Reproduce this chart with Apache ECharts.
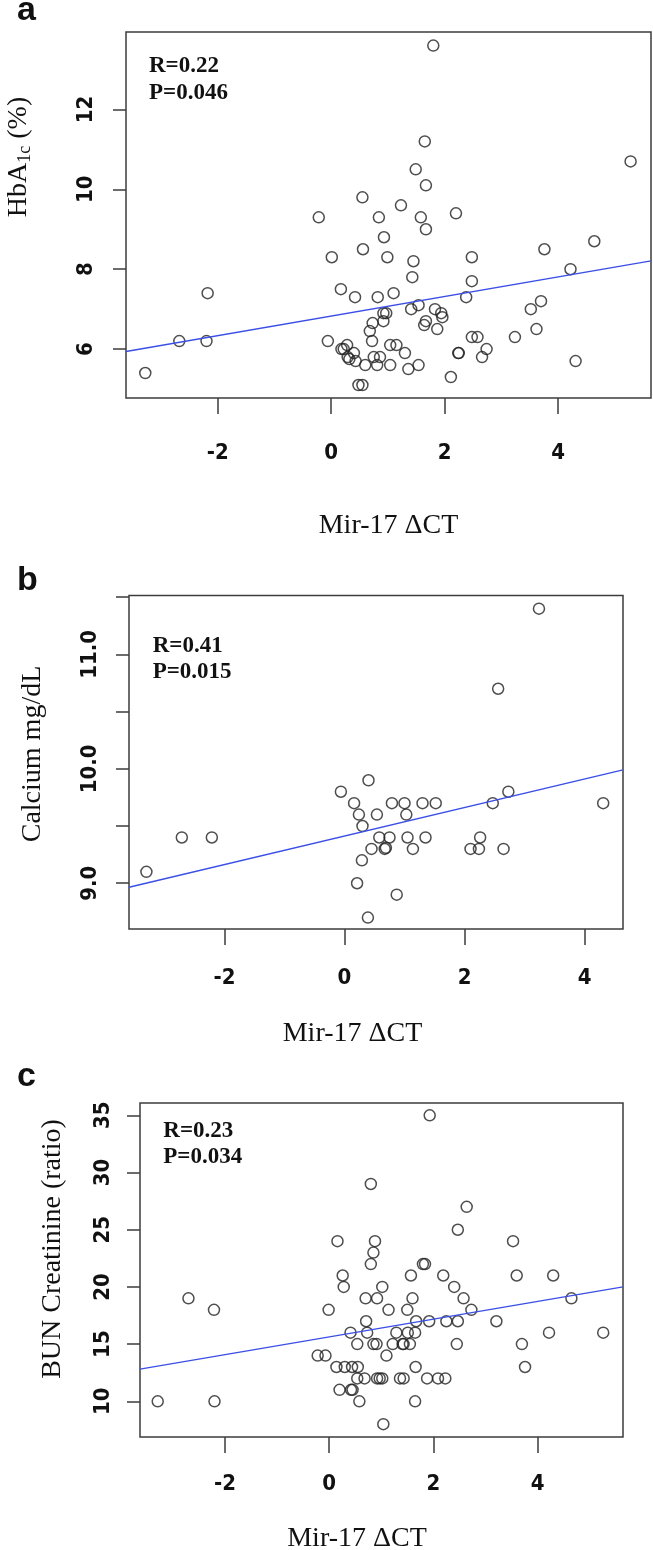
<!DOCTYPE html>
<html><head><meta charset="utf-8">
<script src="https://cdn.jsdelivr.net/npm/echarts@6/dist/echarts.min.js"></script>
<style>html,body{margin:0;padding:0;background:#fff}#c{width:653px;height:1550px}</style>
</head><body><div id="c"></div>
<script>
// ---------- data ----------
const xTicks = [-2, 0, 2, 4];
const aYTicks = [6, 8, 10, 12];
const bYTicks = [9, 9.5, 10, 10.5, 11, 11.5];
const bYLabels = [9, 10, 11];
const cYTicks = [10, 15, 20, 25, 30, 35];

const aPoints = [[1.80,13.6],[1.65,11.2],[1.49,10.5],[1.67,10.1],[5.28,10.7],[0.55,9.8],[1.23,9.6],[-0.22,9.3],[0.84,9.3],[1.58,9.3],[2.20,9.4],[1.67,9.0],[0.93,8.8],[0.56,8.5],[3.76,8.5],[4.64,8.7],[0.01,8.3],[0.99,8.3],[1.45,8.2],[2.48,8.3],[4.22,8.0],[1.43,7.8],[2.48,7.7],[-2.18,7.4],[0.17,7.5],[0.42,7.3],[0.82,7.3],[1.10,7.4],[2.38,7.3],[3.70,7.2],[3.52,7.0],[1.54,7.1],[1.41,7.0],[1.83,7.0],[1.94,6.9],[1.96,6.8],[0.92,6.9],[0.97,6.9],[0.92,6.7],[0.73,6.65],[1.67,6.7],[1.64,6.6],[0.68,6.45],[1.87,6.5],[3.62,6.5],[0.72,6.2],[-0.06,6.2],[-2.68,6.2],[-2.20,6.2],[2.48,6.3],[2.58,6.3],[3.24,6.3],[2.74,6.0],[1.04,6.1],[1.15,6.1],[0.28,6.1],[0.18,6.0],[0.22,6.0],[0.40,5.9],[0.29,5.8],[0.32,5.75],[2.24,5.9],[2.25,5.9],[1.30,5.9],[2.66,5.8],[0.75,5.8],[0.86,5.8],[0.43,5.7],[0.60,5.6],[0.81,5.6],[1.04,5.6],[1.36,5.5],[1.54,5.6],[4.31,5.7],[-3.28,5.4],[2.11,5.3],[0.48,5.1],[0.55,5.1]];
const aFit = [[-3.62,5.94],[5.64,8.21]];
const aStats = ['R=0.22', 'P=0.046'];

const bPoints = [[-3.30,9.1],[-2.71,9.4],[-2.21,9.4],[-0.06,9.8],[0.40,9.9],[0.16,9.7],[0.24,9.6],[0.30,9.5],[0.54,9.6],[0.79,9.7],[1.00,9.7],[1.03,9.6],[1.30,9.7],[1.52,9.7],[0.58,9.4],[0.75,9.4],[1.05,9.4],[1.35,9.4],[0.45,9.3],[0.67,9.3],[0.69,9.31],[1.14,9.3],[0.29,9.2],[0.21,9.0],[0.87,8.9],[0.39,8.7],[2.47,9.7],[2.26,9.4],[2.10,9.3],[2.24,9.3],[2.65,9.3],[4.31,9.7],[2.73,9.8],[2.56,10.7],[3.24,11.4]];
const bFit = [[-3.59,8.965],[4.64,9.991]];
const bStats = ['R=0.41', 'P=0.015'];

const cPoints = [[1.93,35],[0.80,29],[2.64,27],[2.47,25],[0.16,24],[0.88,24],[3.53,24],[0.85,23],[0.80,22],[1.80,22],[1.84,22],[0.26,21],[1.57,21],[2.19,21],[3.60,21],[4.30,21],[0.28,20],[1.02,20],[2.40,20],[-2.70,19],[0.70,19],[0.92,19],[1.60,19],[2.58,19],[4.65,19],[-2.21,18],[-0.01,18],[1.14,18],[1.50,18],[2.73,18],[0.71,17],[1.67,17],[1.92,17],[2.25,17],[2.47,17],[3.21,17],[0.41,16],[0.73,16],[1.29,16],[1.51,16],[1.65,16],[4.22,16],[5.26,16],[0.54,15],[0.85,15],[0.91,15],[1.22,15],[1.41,15],[1.43,15],[1.55,15],[2.45,15],[3.70,15],[-0.22,14],[-0.07,14],[1.10,14],[0.14,13],[0.30,13],[0.44,13],[0.55,13],[1.66,13],[3.76,13],[0.54,12],[0.68,12],[0.92,12],[0.97,12],[1.02,12],[1.36,12],[1.43,12],[1.88,12],[2.09,12],[2.23,12],[0.20,11],[0.42,11],[0.45,11],[-3.29,10],[-2.20,10],[0.58,10],[1.65,10],[1.04,8]];
const cFit = [[-3.63,12.81],[5.64,20.0]];
const cStats = ['R=0.23', 'P=0.034'];

const xTitle = 'Mir-17 \u0394CT';
const bYTitle = 'Calcium mg/dL';
const cYTitle = 'BUN Creatinine (ratio)';

// ---------- styling ----------
const SERIF = "'Liberation Serif','Times New Roman',serif";
const NARROW = "'Liberation Sans Narrow','DejaVu Sans Condensed','Liberation Sans',sans-serif";
const SANS = "'Liberation Sans',Arial,sans-serif";
const AX = '#3c3c3c';

function xAxis(gi, min, max, margin) {
  return {
    type: 'value', gridIndex: gi, min: min, max: max, position: 'bottom',
    axisLine: { show: false, onZero: false }, splitLine: { show: false },
    axisTick: { show: true, length: 16, customValues: xTicks, lineStyle: { color: AX, width: 1.5 } },
    axisLabel: { customValues: xTicks, margin: margin, fontFamily: NARROW, fontWeight: 'bold', fontSize: 22, color: '#111' }
  };
}
function yAxis(gi, min, max, ticks, labels, margin, fmt) {
  return {
    type: 'value', gridIndex: gi, min: min, max: max, position: 'left',
    axisLine: { show: false, onZero: false }, splitLine: { show: false },
    axisTick: { show: true, length: 13, customValues: ticks, lineStyle: { color: AX, width: 1.5 } },
    axisLabel: { customValues: labels, margin: margin, rotate: 90, fontFamily: NARROW, fontWeight: 'bold', fontSize: 22, color: '#111',
      formatter: fmt || (v => String(v)) }
  };
}
function scatter(i, data) {
  return { type: 'scatter', xAxisIndex: i, yAxisIndex: i, data: data, symbol: 'circle', symbolSize: 11,
    itemStyle: { color: 'rgba(0,0,0,0)', borderColor: '#222', borderWidth: 1.5 }, z: 2 };
}
function fit(i, data) {
  return { type: 'line', xAxisIndex: i, yAxisIndex: i, data: data, showSymbol: false, symbol: 'none',
    lineStyle: { color: '#3b4fe6', width: 1.4 }, z: 3, clip: true };
}
function txt(x, y, text, font, align, rot) {
  return { type: 'text', x: x, y: y, rotation: rot || 0, z: 10,
    style: { text: text, font: font, fill: '#111', align: align || 'left', textAlign: align || 'left',
      verticalAlign: 'middle', textVerticalAlign: 'middle' } };
}

const gridStyle = { show: true, borderColor: AX, borderWidth: 1.5, backgroundColor: 'rgba(0,0,0,0)' };

const option = {
  animation: false,
  backgroundColor: '#fff',
  grid: [
    Object.assign({ left: 126, top: 32, width: 525, height: 366 }, gridStyle),
    Object.assign({ left: 129, top: 595.5, width: 494, height: 333.5 }, gridStyle),
    Object.assign({ left: 140, top: 1103, width: 483, height: 334 }, gridStyle)
  ],
  xAxis: [
    xAxis(0, -3.62, 5.64, 44),
    xAxis(1, -3.59, 4.64, 38),
    xAxis(2, -3.63, 5.64, 36)
  ],
  yAxis: [
    yAxis(0, 4.775, 13.94, aYTicks, aYTicks, 28.5),
    yAxis(1, 8.60, 11.515, bYTicks, bYLabels, 27.7, v => v.toFixed(1)),
    yAxis(2, 6.88, 36.08, cYTicks, cYTicks, 26.2)
  ],
  series: [
    scatter(0, aPoints), fit(0, aFit),
    scatter(1, bPoints), fit(1, bFit),
    scatter(2, cPoints), fit(2, cFit)
  ],
  graphic: [
    txt(17, 10.5, 'a', 'bold 34px ' + SANS),
    txt(17, 580.2, 'b', 'bold 34px ' + SANS),
    txt(17, 1076.2, 'c', 'bold 34px ' + SANS),
    txt(149, 66, aStats[0], 'bold 23px ' + SERIF),
    txt(149, 93, aStats[1], 'bold 23px ' + SERIF),
    txt(152.7, 645.8, bStats[0], 'bold 23px ' + SERIF),
    txt(152.7, 672, bStats[1], 'bold 23px ' + SERIF),
    txt(163.3, 1130.8, cStats[0], 'bold 23px ' + SERIF),
    txt(163.3, 1157.5, cStats[1], 'bold 23px ' + SERIF),
    txt(388.5, 526, xTitle, '28px ' + SERIF, 'center'),
    txt(352.5, 1033.3, xTitle, '28px ' + SERIF, 'center'),
    txt(357, 1538.3, xTitle, '28px ' + SERIF, 'center'),
    {
      type: 'text', x: 19, y: 157, rotation: Math.PI / 2, z: 10,
      style: {
        text: '{n|HbA}{s|1c}{n| (%)}', align: 'center', textAlign: 'center', verticalAlign: 'middle', textVerticalAlign: 'middle',
        fill: '#111',
        rich: {
          n: { fontFamily: SERIF, fontSize: 28, lineHeight: 30, fill: '#111', color: '#111' },
          s: { fontFamily: SERIF, fontSize: 18, lineHeight: 10, verticalAlign: 'bottom', fill: '#111', color: '#111' }
        }
      }
    },
    txt(32.5, 754, bYTitle, '28px ' + SERIF, 'center', Math.PI / 2),
    txt(53, 1249, cYTitle, '28px ' + SERIF, 'center', Math.PI / 2)
  ]
};

const chart = echarts.init(document.getElementById('c'), null, { renderer: 'canvas' });
chart.setOption(option);
</script>
</body></html>
